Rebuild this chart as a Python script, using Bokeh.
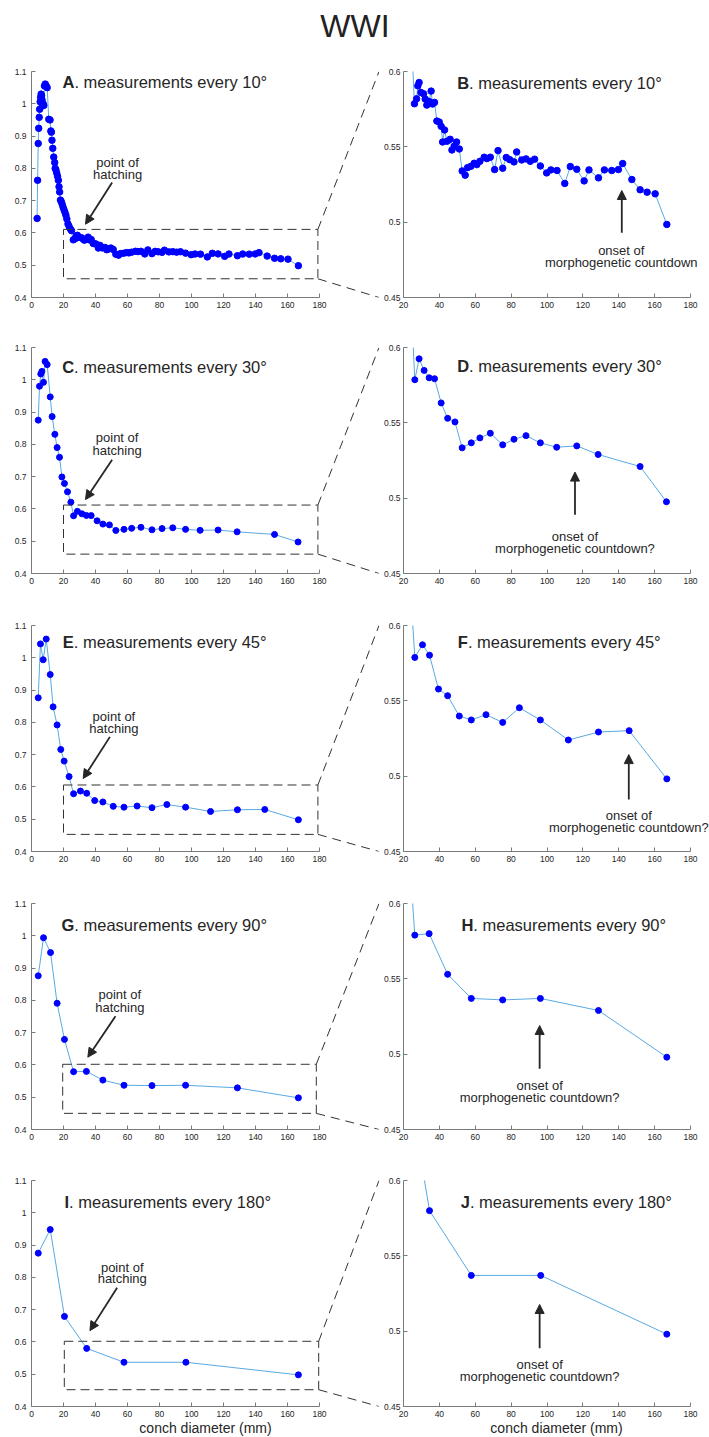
from bokeh.plotting import figure
from bokeh.layouts import column, row
from bokeh.models import Range1d, FixedTicker, Arrow, NormalHead, Label, NumeralTickFormatter
from bokeh.embed import file_html
from bokeh.resources import INLINE

# ---------------- data ----------------
x10 = [3.5, 3.8, 4.2, 4.5, 4.8, 5.1, 5.4, 5.7, 6.0, 6.3, 6.6, 6.9, 7.3, 7.7, 8.1,
       8.6, 9.2, 9.8, 10.8, 11.6, 12.1, 12.4, 12.8, 13.3, 13.9, 14.5, 14.8, 15.3, 15.8, 16.3,
       16.8, 17.2, 17.6, 18.1, 18.6, 19.1, 19.7, 20.3, 20.9, 21.5, 22.1, 22.8, 23.5, 24.3, 25.0,
       26.1, 27.3, 28.0, 28.7, 29.7, 31.2, 32.1, 33.0, 34.3, 35.4, 36.2, 37.3, 38.6, 39.9, 41.0,
       41.8, 42.9, 44.2, 46.0, 47.0, 48.3, 49.6, 51.1, 52.7, 54.4, 55.7, 57.6, 59.4, 60.9, 62.6,
       65.0, 66.5, 68.4, 70.8, 72.7, 75.3, 77.3, 79.2, 81.6, 83.1, 85.9, 88.3, 90.7, 93.1, 96.3,
       99.8, 102.2, 105.6, 109.9, 113.0, 116.6, 120.7, 123.4, 128.7, 132.0, 136.1, 139.8, 142.2,
       147.3, 151.9, 155.8, 160.3, 166.8]
y10 = [0.645, 0.763, 0.877, 0.924, 0.958, 0.983, 1.006, 1.020, 1.030, 1.025, 1.012, 0.994, 1.000, 0.995, 1.055,
       1.061, 1.055, 1.050, 0.952, 0.950, 0.916, 0.912, 0.887, 0.862, 0.835, 0.818, 0.800, 0.795, 0.785, 0.775,
       0.763, 0.743, 0.727, 0.702, 0.697, 0.690, 0.680, 0.672, 0.664, 0.655, 0.643, 0.628, 0.620, 0.612, 0.607,
       0.5786, 0.5819, 0.5905, 0.5927, 0.5861, 0.5852, 0.5817, 0.5777, 0.5801, 0.5870, 0.5784, 0.5795, 0.5671, 0.5665, 0.5636,
       0.5532, 0.5612, 0.5537, 0.5550, 0.5479, 0.5504, 0.5532, 0.5486, 0.5340, 0.5312, 0.5362, 0.5371, 0.5391, 0.5382, 0.5404,
       0.5431, 0.5422, 0.5431, 0.5349, 0.5475, 0.5358, 0.5429, 0.5415, 0.5400, 0.5466, 0.5413, 0.5420, 0.5404, 0.5418, 0.5373,
       0.5327, 0.5347, 0.5343, 0.5257, 0.5369, 0.5351, 0.5274, 0.5347, 0.5294, 0.5347, 0.5343, 0.5349, 0.5389,
       0.5283, 0.5215, 0.5199, 0.5188, 0.4985]

x30 = [4.2, 5.0, 5.8, 6.5, 7.5, 8.5, 9.8, 11.7, 12.9, 14.6, 16.0, 17.5, 19.0, 20.6, 22.5, 24.6,
       26.3, 28.7, 31.5, 34.3, 37.3, 41.0, 44.6, 48.7, 52.7, 57.8, 62.6, 68.4, 75.3, 81.6, 88.3,
       96.3, 105.4, 116.6, 128.5, 151.9, 166.6]
y30 = [0.875, 0.980, 1.018, 1.026, 0.992, 1.057, 1.047, 0.947, 0.886, 0.831, 0.790, 0.760, 0.699, 0.679, 0.653, 0.621,
       0.5786, 0.5925, 0.5848, 0.5799, 0.5793, 0.5632, 0.5530, 0.5506, 0.5334, 0.5367, 0.5400, 0.5431, 0.5354, 0.5391, 0.5415,
       0.5367, 0.5338, 0.5347, 0.5290, 0.5210, 0.4976]

x45 = [4.2, 5.6, 7.3, 9.2, 11.7, 13.5, 16.0, 18.3, 20.4, 23.5, 26.3, 30.6, 34.5, 39.5, 44.6,
       51.1, 57.8, 66.0, 75.3, 84.6, 96.3, 111.9, 128.7, 145.8, 166.8]
y45 = [0.876, 1.043, 0.994, 1.058, 0.948, 0.848, 0.792, 0.716, 0.680, 0.632, 0.5788, 0.5872, 0.5803, 0.5578, 0.5534,
       0.5399, 0.5373, 0.5408, 0.5357, 0.5454, 0.5373, 0.5240, 0.5293, 0.5302, 0.4982]

x90 = [4.2, 7.5, 11.9, 16.0, 20.6, 26.3, 34.3, 44.6, 57.8, 75.3, 96.3, 128.7, 166.8]
y90 = [0.876, 0.994, 0.948, 0.791, 0.679, 0.579, 0.580, 0.553, 0.537, 0.536, 0.537, 0.529, 0.498]

x180 = [4.2, 11.7, 20.6, 34.5, 57.8, 96.5, 166.8]
y180 = [0.875, 0.948, 0.679, 0.580, 0.537, 0.537, 0.498]

series_x = [x10, x30, x45, x90, x180]
series_y = [y10, y30, y45, y90, y180]
degree_labels = ["10°", "30°", "45°", "90°", "180°"]
left_letters = ["A", "C", "E", "G", "I"]
right_letters = ["B", "D", "F", "H", "J"]

left_xticks = [0, 20, 40, 60, 80, 100, 120, 140, 160, 180]
left_yticks = [0.4, 0.5, 0.6, 0.7, 0.8, 0.9, 1.0, 1.1]
right_xticks = [20, 40, 60, 80, 100, 120, 140, 160, 180]
right_yticks = [0.45, 0.5, 0.55, 0.6]

# zoom boxes drawn in the left panels (x0, x1, y0, y1)
zoom_boxes = [(20, 179, 0.458, 0.611), (20, 179, 0.460, 0.612), (20, 179, 0.453, 0.606),
              (19.5, 178, 0.450, 0.602), (20.5, 179.5, 0.452, 0.602)]

onset_labels = ["morphogenetic countdown", "morphogenetic countdown?", "morphogenetic countdown?",
                "morphogenetic countdown?", "morphogenetic countdown?"]

# ---------------- annotation placement (data coordinates) ----------------
left_title_pos = [(19.4, 1.066), (19.2, 1.041), (19.6, 1.048), (18.75, 1.032), (20.6, 1.033)]
right_title_pos = [(49.9, 0.5922), (49.9, 0.5874), (50.3, 0.5889), (52.3, 0.5854), (51.9, 0.5856)]
hatch_text_pos = [(53.8, 0.818, 0.780), (53.5, 0.821, 0.782), (51.5, 0.819, 0.780),
                  (55.2, 0.819, 0.779), (56.7, 0.832, 0.795)]
hatch_arrow = [((50.4, 0.756), (33.75, 0.627)), ((50.4, 0.752), (33.75, 0.629)),
               ((49.0, 0.755), (32.3, 0.626)), ((52.5, 0.751), (35.2, 0.624)),
               ((53.5, 0.768), (36.5, 0.635))]
onset_text_pos = [(141.4, 0.4815, 0.4731), (115.6, 0.4747, 0.4665), (145.6, 0.4741, 0.4659),
                  (95.9, 0.4793, 0.4712), (95.9, 0.4779, 0.4699)]
onset_arrow = [(141.7, 0.493, 0.521), (115.6, 0.489, 0.5173), (145.6, 0.4845, 0.5143),
               (95.9, 0.4904, 0.519), (95.9, 0.4887, 0.5177)]

# ---------------- styling & layout ----------------
FONT = "Liberation Sans"
TXT = "#262626"
LINE_C = "#58AAE2"
MARK_C = "#0000FF"
AXIS_C = "#7a7a7a"

PAGE_W, PAGE_H = 709, 1437
TITLE_H = 50
L_X0, L_W = 31, 288          # pixel position / width of the 0..180 span (left panels)
R_X0, R_W = 403, 287         # pixel position / width of the 20..180 span (right panels)
FRAME_H = 226
R_BORDER = 24                # room for the right panels' y tick labels
L_FIG_W = R_X0 - R_BORDER
R_FIG_W = PAGE_W - L_FIG_W
frame_tops = [71, 347, 625, 903, 1180]
TOP_PAD = 21
CONN_TOP_END_X = L_FIG_W - 0.5
CONN_BOT_END_X = L_FIG_W - 0.5
bold_w = {"A": 11.9, "B": 11.9, "C": 11.9, "D": 11.9, "E": 11.0, "F": 10.1,
          "G": 12.8, "H": 11.9, "I": 4.6, "J": 9.2}
TITLE_FS = 16.5

# data ranges of the (widened) frames
L_XEND = (L_FIG_W - L_X0) / L_W * 180
R_XEND = 20 + (PAGE_W - R_X0) / R_W * 160


def l2page(x, y, top):
    return L_X0 + x / 180 * L_W, top + (1.1 - y) / 0.7 * FRAME_H


def page2l(px, py, top):
    return (px - L_X0) / L_W * 180, 1.1 - (py - top) / FRAME_H * 0.7


def style(p, xt, yt, xbounds, xlabel, standoff):
    p.xaxis.ticker = FixedTicker(ticks=xt)
    p.yaxis.ticker = FixedTicker(ticks=yt)
    p.xaxis.bounds = xbounds
    p.yaxis.formatter = NumeralTickFormatter(format="0.[00]")
    p.grid.visible = False
    p.outline_line_color = None
    p.axis.axis_line_color = AXIS_C
    p.axis.major_tick_line_color = AXIS_C
    p.axis.minor_tick_line_color = None
    p.axis.major_tick_in = 4
    p.axis.major_tick_out = 0
    p.axis.major_label_text_font = FONT
    p.axis.major_label_text_font_size = "8.5px"
    p.axis.major_label_text_color = TXT
    p.xaxis.major_label_standoff = 4
    p.yaxis.major_label_standoff = standoff
    if xlabel:
        p.xaxis.axis_label = "conch diameter (mm)"
        p.xaxis.axis_label_text_font = FONT
        p.xaxis.axis_label_text_font_size = "14px"
        p.xaxis.axis_label_text_font_style = "normal"
        p.xaxis.axis_label_text_color = TXT
        p.xaxis.axis_label_standoff = 0


def panel_title(p, letter, deg, pos):
    x, y = pos
    p.add_layout(Label(x=x, y=y, text=letter, text_font=FONT, text_font_style="bold",
                       text_font_size=f"{TITLE_FS}px", text_color=TXT, text_baseline="alphabetic"))
    p.add_layout(Label(x=x, y=y, x_offset=bold_w[letter], text=". measurements every " + deg,
                       text_font=FONT, text_font_size=f"{TITLE_FS}px", text_color=TXT,
                       text_baseline="alphabetic"))


def txt(p, x, y, s, size="13px"):
    p.add_layout(Label(x=x, y=y, text=s, text_font=FONT, text_font_size=size, text_color=TXT,
                       text_align="center", text_baseline="alphabetic"))


def arrow(p, x0, y0, x1, y1):
    p.add_layout(Arrow(x_start=x0, y_start=y0, x_end=x1, y_end=y1, line_color=TXT, line_width=1.8,
                       end=NormalHead(size=9, fill_color=TXT, line_color=TXT, line_width=1)))


def connector(p, a, b):
    p.add_layout(Arrow(x_start=a[0], y_start=a[1], x_end=b[0], y_end=b[1], end=None,
                       line_color="#333333", line_width=1, line_dash="9 6"))


# title
tfig = figure(width=PAGE_W, height=TITLE_H, frame_width=PAGE_W, frame_height=TITLE_H,
              x_range=Range1d(0, PAGE_W), y_range=Range1d(0, TITLE_H), min_border=0,
              x_axis_location=None, y_axis_location=None, toolbar_location=None,
              output_backend="svg")
tfig.outline_line_color = None
tfig.grid.visible = False
tfig.add_layout(Label(x=PAGE_W / 2, y=TITLE_H - 25, text="WWI",
                      text_font=FONT, text_font_size="32px", text_color="#222222",
                      text_align="center", text_baseline="middle"))

rows = [tfig]
for i in range(5):
    top = frame_tops[i]
    canvas_top = TITLE_H if i == 0 else frame_tops[i] - TOP_PAD
    canvas_bot = PAGE_H if i == 4 else frame_tops[i + 1] - TOP_PAD
    fig_h = canvas_bot - canvas_top
    mbt = top - canvas_top
    mbb = fig_h - mbt - FRAME_H
    last = i == 4

    pl = figure(width=L_FIG_W, height=fig_h, frame_width=L_FIG_W - L_X0, frame_height=FRAME_H,
                min_border_left=L_X0, min_border_right=0,
                min_border_top=mbt, min_border_bottom=mbb,
                x_range=Range1d(0, L_XEND), y_range=Range1d(0.4, 1.1),
                toolbar_location=None, output_backend="svg")
    pr = figure(width=R_FIG_W, height=fig_h, frame_width=PAGE_W - R_X0, frame_height=FRAME_H,
                min_border_left=R_BORDER, min_border_right=0,
                min_border_top=mbt, min_border_bottom=mbb,
                x_range=Range1d(20, R_XEND), y_range=Range1d(0.45, 0.6),
                toolbar_location=None, output_backend="svg")
    style(pl, left_xticks, left_yticks, (0, 180), last, 5)
    style(pr, right_xticks, right_yticks, (20, 180), last, 3)

    msize = 6.5 if i == 0 else 6
    for p in (pl, pr):
        p.line(series_x[i], series_y[i], line_color=LINE_C, line_width=1)
        p.scatter(series_x[i], series_y[i], size=msize, fill_color=MARK_C, line_color=MARK_C)

    bx0, bx1, by0, by1 = zoom_boxes[i]
    pl.quad(left=[bx0], right=[bx1], bottom=[by0], top=[by1], fill_color=None,
            line_color="#333333", line_width=1, line_dash="9 5")

    # connectors from box corners towards the zoomed panel
    a_top = l2page(bx1, by1, top)
    a_bot = l2page(bx1, by0, top)
    b_top = (CONN_TOP_END_X, top)
    b_bot = (CONN_BOT_END_X, top + FRAME_H)
    connector(pl, page2l(*a_top, top), page2l(*b_top, top))
    connector(pl, page2l(*a_bot, top), page2l(*b_bot, top))

    panel_title(pl, left_letters[i], degree_labels[i], left_title_pos[i])
    panel_title(pr, right_letters[i], degree_labels[i], right_title_pos[i])

    hx, hy1, hy2 = hatch_text_pos[i]
    txt(pl, hx, hy1, "point of")
    txt(pl, hx, hy2, "hatching")
    (ax0, ay0), (ax1, ay1) = hatch_arrow[i]
    arrow(pl, ax0, ay0, ax1, ay1)

    ox, oy1, oy2 = onset_text_pos[i]
    txt(pr, ox, oy1, "onset of")
    txt(pr, ox, oy2, onset_labels[i])
    axx, at, ah = onset_arrow[i]
    arrow(pr, axx, at, axx, ah)

    rows.append(row(pl, pr, spacing=0))

layout = column(*rows, spacing=0)
open("out.html", "w").write(file_html(layout, INLINE))
